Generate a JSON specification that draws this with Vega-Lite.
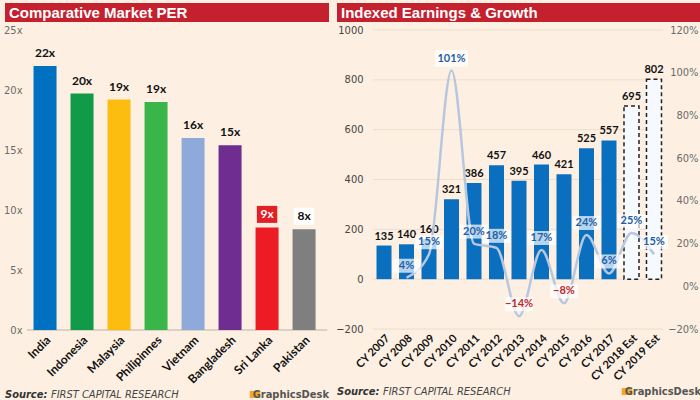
{
  "$schema": "https://vega.github.io/schema/vega-lite/v6.json",
  "background": "#fdf0e2",
  "padding": {"left": 3, "top": 3, "right": 3, "bottom": 0},
  "spacing": 6,
  "config": {
    "view": {"stroke": null},
    "font": "Liberation Sans Narrow, DejaVu Sans Condensed, sans-serif"
  },
  "hconcat": [
    {
      "spacing": 2,
      "vconcat": [
        {
          "width": 324,
          "height": 19,
          "view": {"fill": "#c5202e", "stroke": null},
          "data": {"values": [{"t": "Comparative Market PER"}]},
          "mark": {"type": "text", "align": "left", "baseline": "middle", "color": "#ffffff", "font": "Liberation Sans Narrow, sans-serif", "fontWeight": "bold", "fontSize": 15, "dx": 4},
          "encoding": {
            "x": {"datum": 0, "type": "quantitative", "scale": {"domain": [0, 1]}, "axis": null},
            "text": {"field": "t"}
          }
        },
        {
          "width": 324,
          "height": 300,
          "data": {"values": [
            {"country": "India", "per": 22.0, "label": "22x"},
            {"country": "Indonesia", "per": 19.7, "label": "20x"},
            {"country": "Malaysia", "per": 19.2, "label": "19x"},
            {"country": "Philipinnes", "per": 19.0, "label": "19x"},
            {"country": "Vietnam", "per": 16.0, "label": "16x"},
            {"country": "Bangladesh", "per": 15.4, "label": "15x"},
            {"country": "Sri Lanka", "per": 8.55, "label": "9x"},
            {"country": "Pakistan", "per": 8.4, "label": "8x"}
          ]},
          "encoding": {
            "x": {"field": "country", "type": "nominal", "sort": null,
              "scale": {"domain": ["India", "Indonesia", "Malaysia", "Philipinnes", "Vietnam", "Bangladesh", "Sri Lanka", "Pakistan"], "paddingInner": 0.378, "paddingOuter": 0.567, "align": 0.68},
              "axis": {"title": null, "labelAngle": -45, "labelFont": "Lato", "labelFontWeight": "bold", "labelFontSize": 12, "labelColor": "#111111", "ticks": false, "domain": false, "labelPadding": 4}},
            "y": {"field": "per", "type": "quantitative", "scale": {"domain": [0, 25]},
              "axis": {"title": null, "values": [0, 5, 10, 15, 20, 25], "labelExpr": "datum.value + 'x'", "grid": false, "domain": false, "ticks": false, "labelColor": "#6b6b6b", "labelFontSize": 11, "labelAlign": "right", "labelPadding": -17}}
          },
          "layer": [
            {
              "mark": {"type": "rule", "color": "#dcd1c4", "strokeWidth": 1, "xOffset": -18, "x2Offset": 23},
              "encoding": {
                "y": {"datum": 0, "type": "quantitative"},
                "x": {"datum": "India", "type": "nominal"},
                "x2": {"datum": "Pakistan"}
              }
            },
            {
              "mark": {"type": "bar"},
              "encoding": {
                "color": {"field": "country", "type": "nominal", "sort": null, "legend": null,
                  "scale": {
                    "domain": ["India", "Indonesia", "Malaysia", "Philipinnes", "Vietnam", "Bangladesh", "Sri Lanka", "Pakistan"],
                    "range": ["#0070c0", "#119a48", "#fdbd10", "#3ab54a", "#8eaadb", "#6f2c91", "#ed1c24", "#7f7f7f"]}}
              }
            },
            {
              "transform": [{"filter": "datum.country === 'Sri Lanka' || datum.country === 'Pakistan'"}],
              "mark": {"type": "point", "shape": "M-1.2,-1H1.2V1H-1.2Z", "filled": true, "opacity": 1, "size": 289, "yOffset": -13},
              "encoding": {
                "color": {"condition": {"test": "datum.country === 'Sri Lanka'", "value": "#e31e24"}, "value": "#ffffff"}
              }
            },
            {
              "mark": {"type": "text", "dy": -13, "baseline": "middle", "font": "Lato", "fontWeight": "bold", "fontSize": 12},
              "encoding": {
                "text": {"field": "label"},
                "color": {"condition": {"test": "datum.country === 'Sri Lanka'", "value": "#ffffff"}, "value": "#111111"}
              }
            }
          ]
        },
        {
          "width": 324,
          "height": 9,
          "data": {"values": [{"a": "Source:", "b": "FIRST CAPITAL RESEARCH", "c": "GraphicsDesk"}]},
          "encoding": {
            "x": {"datum": 0, "type": "quantitative", "scale": {"domain": [0, 1]}, "axis": null}
          },
          "layer": [
            {"mark": {"type": "text", "align": "left", "baseline": "middle", "fontStyle": "italic", "fontWeight": "bold", "fontSize": 11, "color": "#333333"}, "encoding": {"text": {"field": "a"}}},
            {"mark": {"type": "text", "align": "left", "baseline": "middle", "fontStyle": "italic", "fontSize": 11, "color": "#444444", "dx": 46}, "encoding": {"text": {"field": "b"}}},
            {"mark": {"type": "point", "shape": "M-1.5,-1H1.5V1H-1.5Z", "filled": true, "opacity": 1, "size": 49, "color": "#f5a623", "xOffset": -74}, "encoding": {"x": {"datum": 1, "type": "quantitative"}}},
            {"mark": {"type": "text", "align": "right", "baseline": "middle", "fontWeight": "bold", "fontSize": 11, "color": "#555555"}, "encoding": {"x": {"datum": 1, "type": "quantitative"}, "text": {"field": "c"}}}
          ]
        }
      ]
    },
    {
      "spacing": 2,
      "vconcat": [
        {
          "width": 364,
          "height": 19,
          "view": {"fill": "#c5202e", "stroke": null},
          "data": {"values": [{"t": "Indexed Earnings & Growth"}]},
          "mark": {"type": "text", "align": "left", "baseline": "middle", "color": "#ffffff", "font": "Liberation Sans Narrow, sans-serif", "fontWeight": "bold", "fontSize": 15, "dx": 4},
          "encoding": {
            "x": {"datum": 0, "type": "quantitative", "scale": {"domain": [0, 1]}, "axis": null},
            "text": {"field": "t"}
          }
        },
        {
          "width": 364,
          "height": 299,
          "data": {"values": [
            {"year": "CY 2007", "earnings": 135, "growth": null, "est": false},
            {"year": "CY 2008", "earnings": 140, "growth": 0.04, "est": false},
            {"year": "CY 2009", "earnings": 160, "growth": 0.15, "est": false},
            {"year": "CY 2010", "earnings": 321, "growth": 1.01, "est": false},
            {"year": "CY 2011", "earnings": 386, "growth": 0.20, "est": false},
            {"year": "CY 2012", "earnings": 457, "growth": 0.18, "est": false},
            {"year": "CY 2013", "earnings": 395, "growth": -0.14, "est": false},
            {"year": "CY 2014", "earnings": 460, "growth": 0.17, "est": false},
            {"year": "CY 2015", "earnings": 421, "growth": -0.08, "est": false},
            {"year": "CY 2016", "earnings": 525, "growth": 0.24, "est": false},
            {"year": "CY 2017", "earnings": 557, "growth": 0.06, "est": false},
            {"year": "CY 2018 Est", "earnings": 695, "growth": 0.25, "est": true},
            {"year": "CY 2019 Est", "earnings": 802, "growth": 0.15, "est": true}
          ]},
          "encoding": {
            "x": {"field": "year", "type": "nominal", "sort": null,
              "scale": {"domain": ["_pad1", "CY 2007", "CY 2008", "CY 2009", "CY 2010", "CY 2011", "CY 2012", "CY 2013", "CY 2014", "CY 2015", "CY 2016", "CY 2017", "CY 2018 Est", "CY 2019 Est", "_pad2"], "paddingInner": 0.333, "paddingOuter": 0.756, "align": 0.5},
              "axis": {"title": null, "values": ["CY 2007", "CY 2008", "CY 2009", "CY 2010", "CY 2011", "CY 2012", "CY 2013", "CY 2014", "CY 2015", "CY 2016", "CY 2017", "CY 2018 Est", "CY 2019 Est"], "labelAngle": -45, "labelFont": "Lato", "labelFontWeight": "bold", "labelFontSize": 11, "labelColor": "#111111", "ticks": false, "domain": false, "labelPadding": 3}}
          },
          "layer": [
            {
              "encoding": {
                "y": {"field": "earnings", "type": "quantitative", "scale": {"domain": [-200, 1000]},
                  "axis": {"title": null, "values": [-200, 0, 200, 400, 600, 800, 1000], "format": "d", "grid": false, "domain": false, "ticks": false, "labelColor": "#444444", "labelFontSize": 11, "labelAlign": "right", "labelPadding": -26}}
              },
              "layer": [
                {
                  "data": {"values": [{"g": -200}, {"g": 0}, {"g": 200}, {"g": 400}, {"g": 600}, {"g": 800}, {"g": 1000}]},
                  "mark": {"type": "rule", "color": "#ebdecd", "strokeWidth": 1, "xOffset": -11, "x2Offset": 9},
                  "encoding": {
                    "y": {"field": "g", "type": "quantitative"},
                    "x": {"datum": "CY 2007", "type": "nominal"},
                    "x2": {"datum": "CY 2019 Est"}
                  }
                },
                {"transform": [{"filter": "!datum.est"}], "mark": {"type": "bar", "color": "#0b6fbf"}},
                {"transform": [{"filter": "datum.est"}], "mark": {"type": "bar", "fill": "#f6f9fd", "stroke": "#222222", "strokeDash": [4, 3], "strokeWidth": 1.5}},
                {"mark": {"type": "text", "baseline": "bottom", "dy": -4, "font": "Lato", "fontWeight": "bold", "fontSize": 11, "color": "#111111"}, "encoding": {"text": {"field": "earnings", "type": "quantitative"}}}
              ]
            },
            {
              "encoding": {
                "y": {"field": "growth", "type": "quantitative", "scale": {"domain": [-0.2, 1.2]},
                  "axis": {"title": null, "orient": "right", "format": ".0%", "values": [-0.2, 0, 0.2, 0.4, 0.6, 0.8, 1.0, 1.2], "grid": false, "domain": false, "ticks": false, "labelColor": "#6b6b6b", "labelFontSize": 11, "labelAlign": "right", "labelPadding": -3}}
              },
              "layer": [
                {"mark": {"type": "line", "interpolate": "monotone", "color": "#b7c7df", "strokeWidth": 2.5}},
                {"transform": [{"filter": "isValid(datum.growth)"}], "mark": {"type": "point", "shape": "M-1,-0.5H1V0.5H-1Z", "filled": true, "color": "#ffffff", "opacity": 0.7, "yOffset": -12},
                  "encoding": {"size": {"condition": {"test": "datum.growth >= 1", "value": 1089}, "value": 784}}},
                {"transform": [{"filter": "isValid(datum.growth)"}], "mark": {"type": "text", "dy": -12, "baseline": "middle", "font": "Lato", "fontWeight": "bold", "fontSize": 11},
                  "encoding": {
                    "text": {"field": "growth", "type": "quantitative", "format": ".0%"},
                    "color": {"condition": {"test": "datum.growth < 0", "value": "#c0272d"}, "value": "#1f5fa8"}
                  }}
              ]
            }
          ],
          "resolve": {"scale": {"y": "independent"}}
        },
        {
          "width": 364,
          "height": 9,
          "data": {"values": [{"a": "Source:", "b": "FIRST CAPITAL RESEARCH", "c": "GraphicsDesk"}]},
          "encoding": {
            "x": {"datum": 0, "type": "quantitative", "scale": {"domain": [0, 1]}, "axis": null}
          },
          "layer": [
            {"mark": {"type": "text", "align": "left", "baseline": "middle", "fontStyle": "italic", "fontWeight": "bold", "fontSize": 11, "color": "#333333"}, "encoding": {"text": {"field": "a"}}},
            {"mark": {"type": "text", "align": "left", "baseline": "middle", "fontStyle": "italic", "fontSize": 11, "color": "#444444", "dx": 46}, "encoding": {"text": {"field": "b"}}},
            {"mark": {"type": "point", "shape": "M-1.5,-1H1.5V1H-1.5Z", "filled": true, "opacity": 1, "size": 49, "color": "#f5a623", "xOffset": -74}, "encoding": {"x": {"datum": 1, "type": "quantitative"}}},
            {"mark": {"type": "text", "align": "right", "baseline": "middle", "fontWeight": "bold", "fontSize": 11, "color": "#555555"}, "encoding": {"x": {"datum": 1, "type": "quantitative"}, "text": {"field": "c"}}}
          ]
        }
      ]
    }
  ]
}
